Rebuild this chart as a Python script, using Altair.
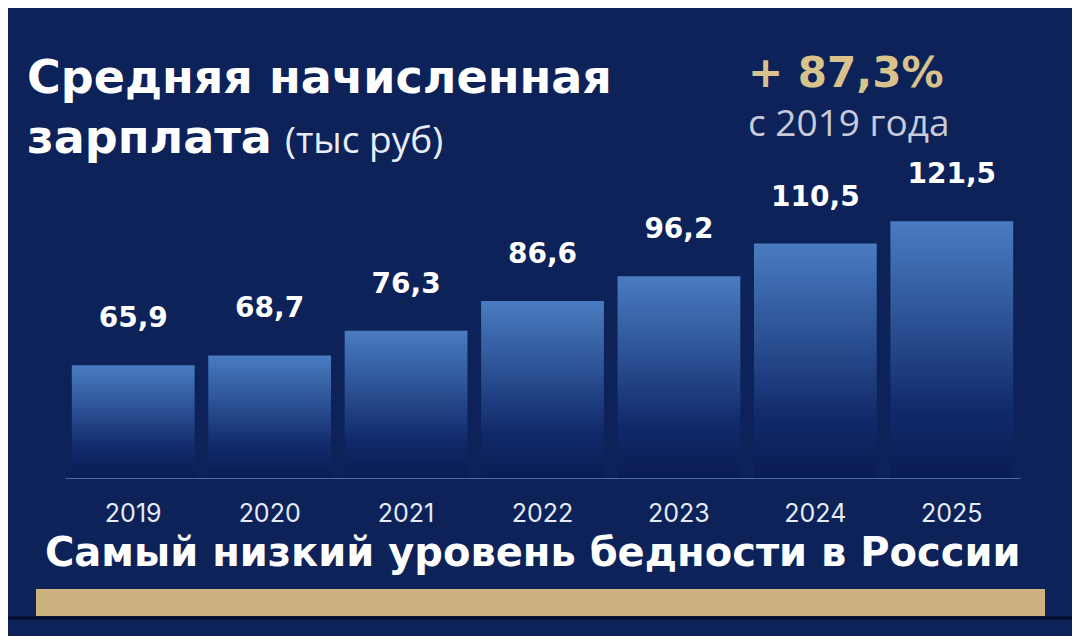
import altair as alt
import pandas as pd

years = ["2019", "2020", "2021", "2022", "2023", "2024", "2025"]
salary = [65.9, 68.7, 76.3, 86.6, 96.2, 110.5, 121.5]
value_labels = ["65,9", "68,7", "76,3", "86,6", "96,2", "110,5", "121,5"]

title_line1 = "Средняя начисленная"
title_line2 = "зарплата"
title_unit = "(тыс руб)"
growth = "+ 87,3%"
growth_sub = "с 2019 года"
caption = "Самый низкий уровень бедности в России"

BG = "#0c2259"
GOLD = "#ccb27e"
Y_MIN, Y_MAX = 40.8, 144.8

df = pd.DataFrame({"year": years, "salary": salary, "label": value_labels})
one = pd.DataFrame({"k": [0]})

W, H = 955, 298
PL, PT = 57, 172
PR = 1064 - PL - W
PB = 628 - PT - H

x_enc = alt.X(
    "year:N",
    sort=years,
    scale=alt.Scale(paddingInner=0.1, paddingOuter=0.05),
    axis=alt.Axis(
        title=None, labelAngle=0, labelFont="Inter", labelFontSize=25,
        labelColor="#e6ebf5", ticks=False, domainColor="#4f6aa3",
        domainWidth=1.2, labelPadding=23, grid=False,
    ),
)
y_enc = alt.Y(
    "salary:Q",
    scale=alt.Scale(type="log", domain=[Y_MIN, Y_MAX], nice=False, zero=False),
    axis=None,
)

ox, oy = 65, 180  # plot origin on page

bars = alt.Chart(df).mark_bar(
    color=alt.Gradient(
        gradient="linear", x1=0, y1=0, x2=0, y2=1,
        stops=[
            alt.GradientStop(color="#4a7cc1", offset=0),
            alt.GradientStop(color="#2f5699", offset=0.35),
            alt.GradientStop(color="#10296a", offset=0.75),
            alt.GradientStop(color="#0a1d52", offset=1),
        ],
    )
).encode(x=x_enc, y=y_enc, y2=alt.datum(Y_MIN))

vals = alt.Chart(df).mark_text(
    font="DejaVu Sans", fontWeight="bold", fontSize=28, color="white",
    baseline="middle", dy=-46,
).encode(x=alt.X("year:N", sort=years), y="salary:Q", text="label:N")


def txt(s, x, y, size, color="white", weight="bold", font="DejaVu Sans", align="left", baseline="alphabetic"):
    return alt.Chart(one).mark_text(
        font=font, fontWeight=weight, fontSize=size, color=color,
        align=align, baseline=baseline,
    ).encode(x=alt.value(x), y=alt.value(y), text=alt.value(s))


t1 = txt(title_line1, 27 - ox, 93 - oy, 46)
t2 = txt(title_line2, 27 - ox, 153 - oy, 46)
t3 = txt(title_unit, 285 - ox, 153 - oy, 37, color="#e8ecf6", weight="normal", font="Open Sans")
g1 = txt(growth, 748 - ox, 87 - oy, 42, color="#d9c28c")
g2 = txt(growth_sub, 748 - ox, 136 - oy, 37, color="#c8ccd8", weight="normal", font="Open Sans")
cap = txt(caption, 45 - ox, 566 - oy, 40)

gold = alt.Chart(one).mark_rect(color=GOLD).encode(
    x=alt.value(36 - ox), x2=alt.value(1045 - ox),
    y=alt.value(589 - oy), y2=alt.value(616 - oy),
)
dark_line = alt.Chart(one).mark_rule(color="#050b26", strokeWidth=3).encode(
    x=alt.value(8 - ox), x2=alt.value(1072 - ox), y=alt.value(618 - oy)
)

chart = alt.layer(bars, vals, t1, t2, t3, g1, g2, cap, gold, dark_line).properties(
    width=W, height=H,
    autosize=alt.AutoSizeParams(type="none"),
    padding={"left": PL, "top": PT, "right": PR, "bottom": PB},
    background=BG,
).configure_view(stroke=None)

chart.save("out.html", embed_options={"renderer": "svg", "actions": False})
